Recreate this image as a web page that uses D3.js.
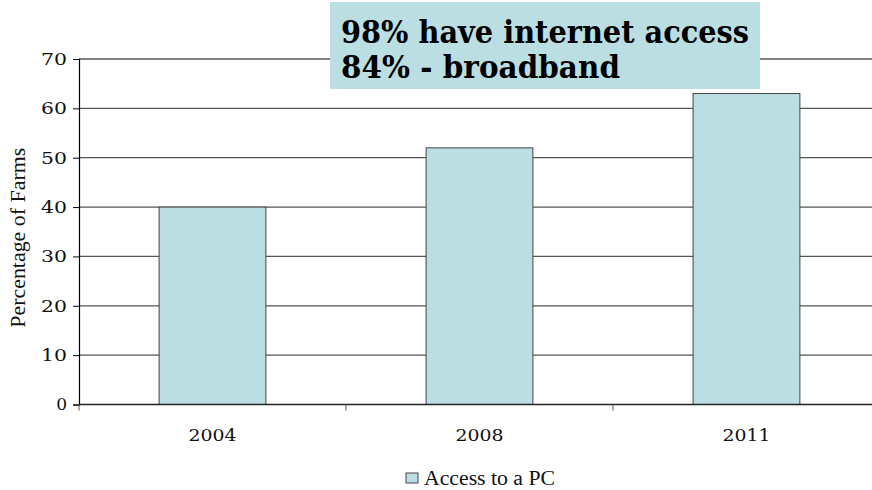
<!DOCTYPE html>
<html><head><meta charset="utf-8">
<script src="https://cdn.jsdelivr.net/npm/d3@7"></script>
<style>body{margin:0;background:#fff}svg{display:block}</style>
</head><body>
<svg id="c" width="872" height="490"></svg>
<script>
const categories = ["2004", "2008", "2011"];
const pcAccess = [40, 52, 63];
const yTicks = [0, 10, 20, 30, 40, 50, 60, 70];
const seriesName = "Access to a PC";
const yTitle = "Percentage of Farms";
const noteLines = ["98% have internet access", "84% - broadband"];

const svg = d3.select("#c");
const L = 79, R = 880, T = 59, B = 404.5;
const fill = "#BBDEE3";
const tickFont = "Georgia, 'DejaVu Serif', serif";
const textFont = "'Liberation Serif', 'Times New Roman', serif";

const y = d3.scaleLinear().domain([0, 70]).range([B, T]);
const x = d3.scaleBand().domain(categories).range([L, R]).paddingInner(0.6).paddingOuter(0.3);
const step = x.step();

// gridlines
svg.append("g").selectAll("line").data(yTicks.filter(d => d > 0)).join("line")
  .attr("x1", L).attr("x2", 872).attr("y1", d => y(d)).attr("y2", d => y(d))
  .attr("stroke", d => d === 70 ? "#000" : "#555").attr("stroke-width", 1.2);

// bars
svg.append("g").selectAll("rect").data(categories).join("rect")
  .attr("x", d => x(d)).attr("width", x.bandwidth())
  .attr("y", (d, i) => y(pcAccess[i])).attr("height", (d, i) => B - y(pcAccess[i]))
  .attr("fill", fill).attr("stroke", "#444").attr("stroke-width", 1);

// y axis
const yAxis = svg.append("g").attr("transform", `translate(${L},0)`)
  .call(d3.axisLeft(y).tickValues(yTicks).tickSize(6).tickPadding(6));
yAxis.select(".domain").attr("stroke", "#000").attr("stroke-width", 1.2);
yAxis.selectAll(".tick line").attr("stroke", "#000");
yAxis.selectAll(".tick text").attr("font-family", tickFont).attr("font-size", 17)
  .attr("textLength", 26).attr("lengthAdjust", "spacingAndGlyphs").attr("fill", "#111");
yAxis.selectAll(".tick text").filter(d => d === 0).attr("textLength", null);

// x axis line
svg.append("line").attr("x1", L).attr("x2", 872).attr("y1", B).attr("y2", B)
  .attr("stroke", "#222").attr("stroke-width", 1.6);
// x tick marks at category boundaries
const bounds = categories.map(c => x(c) - x.paddingOuter() * step);
svg.append("g").selectAll("line").data(bounds).join("line")
  .attr("x1", d => d).attr("x2", d => d).attr("y1", B).attr("y2", B + 6)
  .attr("stroke", "#555").attr("stroke-width", 1);
// x labels
svg.append("g").selectAll("text").data(categories).join("text")
  .attr("x", d => x(d) + x.bandwidth() / 2).attr("y", 441)
  .attr("text-anchor", "middle").attr("font-family", tickFont).attr("font-size", 17)
  .attr("textLength", 48).attr("lengthAdjust", "spacingAndGlyphs").attr("fill", "#111")
  .text(d => d);

// y title
svg.append("text").attr("transform", `translate(25,${(T + B) / 2 + 6}) rotate(-90)`)
  .attr("text-anchor", "middle").attr("font-family", textFont).attr("font-size", 20).attr("fill", "#111")
  .attr("textLength", 180).attr("lengthAdjust", "spacingAndGlyphs")
  .text(yTitle);

// legend
svg.append("rect").attr("x", 406).attr("y", 473).attr("width", 12).attr("height", 10)
  .attr("fill", fill).attr("stroke", "#444").attr("stroke-width", 1);
svg.append("text").attr("x", 424).attr("y", 485).attr("font-family", textFont).attr("font-size", 20)
  .attr("textLength", 131).attr("lengthAdjust", "spacingAndGlyphs")
  .attr("fill", "#111").text(seriesName);

// annotation box
svg.append("rect").attr("x", 330).attr("y", 2).attr("width", 430).attr("height", 87).attr("fill", fill);
svg.append("g").selectAll("text").data(noteLines).join("text")
  .attr("x", 341).attr("y", (d, i) => 43 + i * 35)
  .attr("font-family", "Georgia, 'DejaVu Serif', serif").attr("font-weight", "bold").attr("font-size", 31)
  .attr("fill", "#000")
  .attr("textLength", (d, i) => i === 0 ? 408 : 279).attr("lengthAdjust", "spacingAndGlyphs")
  .text(d => d);
</script>
</body></html>
